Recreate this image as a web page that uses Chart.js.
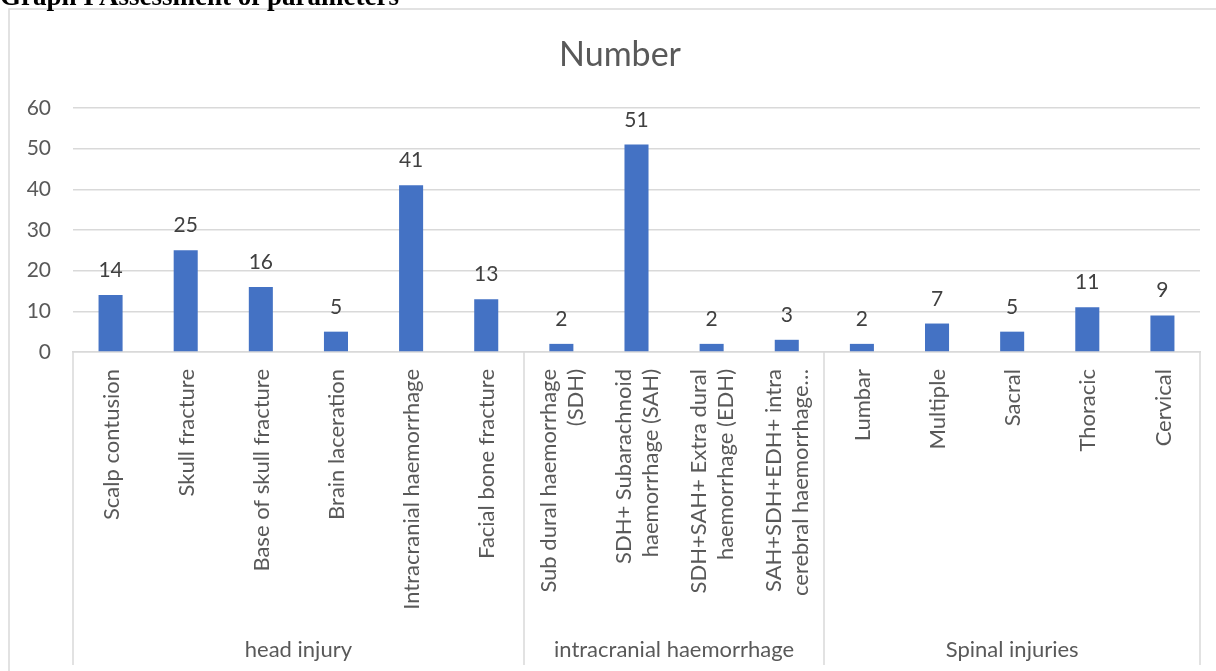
<!DOCTYPE html>
<html>
<head>
<meta charset="utf-8">
<script src="https://cdn.jsdelivr.net/npm/chart.js@4/dist/chart.umd.min.js"></script>
<style>
  html, body { margin: 0; padding: 0; background: #fff; overflow: hidden; }
  #wrap { position: relative; width: 1216px; height: 671px; }
  #heading { position: absolute; left: 0; top: -19px; font: bold 27px "Liberation Serif", "Times New Roman", serif; color: #000; white-space: nowrap; }
  canvas { position: absolute; left: 0; top: 0; }
</style>
</head>
<body>
<div id="wrap">
  <canvas id="myChart" width="1216" height="671"></canvas>
  <div id="heading">Graph I Assessment of parameters</div>
</div>
<script>
// categorien (mehrzeilig) und gruppen
var kategorien = [
  ["Scalp contusion"],
  ["Skull fracture"],
  ["Base of skull fracture"],
  ["Brain laceration"],
  ["Intracranial haemorrhage"],
  ["Facial bone fracture"],
  ["Sub dural haemorrhage", "(SDH)"],
  ["SDH+ Subarachnoid", "haemorrhage (SAH)"],
  ["SDH+SAH+ Extra dural", "haemorrhage (EDH)"],
  ["SAH+SDH+EDH+ intra", "cerebral haemorrhage…"],
  ["Lumbar"],
  ["Multiple"],
  ["Sacral"],
  ["Thoracic"],
  ["Cervical"]
];
var gruppen = ["head injury", "intracranial haemorrhage", "Spinal injuries"];
var gruppenAnzahl = [6, 4, 5];
var anzahlWerte = [14, 25, 16, 5, 41, 13, 2, 51, 2, 3, 2, 7, 5, 11, 9];
var yTicks = [0, 10, 20, 30, 40, 50, 60];
var titel = "Number";

var grau = "#d9d9d9";
var schrift = "Lato, 'Open Sans', sans-serif";

var rahmenPlugin = {
  id: "rahmen",
  beforeDraw: function(chart){
    var ctx = chart.ctx;
    ctx.save();
    ctx.strokeStyle = grau;
    ctx.lineWidth = 1.5;
    ctx.beginPath();
    ctx.moveTo(9, 671);
    ctx.lineTo(9, 9);
    ctx.lineTo(1216, 9);
    ctx.stroke();
    // titel, ueber der ganzen diagrammflaeche zentriert
    ctx.fillStyle = "#595959";
    ctx.font = "34px " + schrift;
    ctx.textAlign = "center";
    ctx.textBaseline = "middle";
    ctx.fillText(titel, 620, 55);
    ctx.restore();
  }
};

var beschriftungPlugin = {
  id: "beschriftung",
  afterDraw: function(chart){
    var ctx = chart.ctx;
    var x = chart.scales.x;
    var area = chart.chartArea;
    ctx.save();

    // werte ueber den balken
    var meta = chart.getDatasetMeta(0);
    ctx.fillStyle = "#404040";
    ctx.font = "21px " + schrift;
    ctx.textAlign = "center";
    ctx.textBaseline = "alphabetic";
    meta.data.forEach(function(bar, i){
      ctx.fillText(String(anzahlWerte[i]), bar.x, bar.y - 18);
    });

    // kategorie texte, gedreht
    ctx.fillStyle = "#595959";
    ctx.font = "22px " + schrift;
    ctx.textBaseline = "middle";
    var zeilenHoehe = 27;
    for (let i = 0; i < kategorien.length; i++){
      let px = x.getPixelForValue(i);
      let zeilen = kategorien[i];
      ctx.save();
      ctx.translate(px, area.bottom + 17);
      ctx.rotate(-Math.PI / 2);
      ctx.textAlign = "right";
      for (let z = 0; z < zeilen.length; z++){
        let off = (z - (zeilen.length - 1) / 2) * zeilenHoehe;
        ctx.fillText(zeilen[z], 0, off + 1);
      }
      ctx.restore();
    }

    // gruppen und trennlinien
    ctx.strokeStyle = grau;
    ctx.lineWidth = 1.5;
    var start = 0;
    var grenzen = [area.left];
    for (let g = 0; g < gruppen.length; g++){
      let ende = start + gruppenAnzahl[g] - 1;
      let links = g == 0 ? area.left : (x.getPixelForValue(start - 1) + x.getPixelForValue(start)) / 2;
      let rechts = g == gruppen.length - 1 ? area.right : (x.getPixelForValue(ende) + x.getPixelForValue(ende + 1)) / 2;
      grenzen.push(rechts);
      ctx.textAlign = "center";
      ctx.fillText(gruppen[g], (links + rechts) / 2, 650);
      start = ende + 1;
    }
    grenzen.forEach(function(gx){
      ctx.beginPath();
      ctx.moveTo(Math.round(gx), area.bottom);
      ctx.lineTo(Math.round(gx), 665);
      ctx.stroke();
    });
    ctx.restore();
  }
};

new Chart("myChart", {
  type: "bar",
  data: {
    labels: kategorien.map(function(k){ return k.join(" "); }),
    datasets: [{
      label: titel,
      data: anzahlWerte,
      backgroundColor: "#4472c4",
      categoryPercentage: 1,
      barPercentage: 0.32
    }]
  },
  options: {
    responsive: false,
    animation: false,
    devicePixelRatio: 1,
    layout: { padding: { left: 0, right: 16, top: 108, bottom: 319 } },
    plugins: {
      legend: { display: false },
      tooltip: { enabled: false },
      title: { display: false }
    },
    scales: {
      x: {
        grid: { display: false, drawTicks: false },
        border: { display: true, color: grau, width: 1.5 },
        ticks: { display: false },
        afterFit: function(s){ s.height = 0; }
      },
      y: {
        min: 0,
        max: 60,
        afterBuildTicks: function(s){ s.ticks = yTicks.map(function(v){ return { value: v }; }); },
        grid: { color: grau, lineWidth: 1.5, drawTicks: false },
        border: { display: false },
        ticks: { color: "#595959", padding: 22, font: { family: schrift, size: 21 } },
        afterFit: function(s){ s.width = 73; }
      }
    }
  },
  plugins: [rahmenPlugin, beschriftungPlugin]
});
</script>
</body>
</html>
